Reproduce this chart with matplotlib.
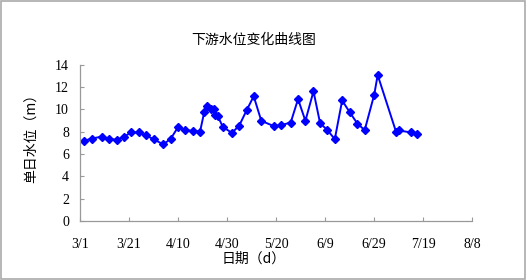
import matplotlib
matplotlib.use("Agg")
import matplotlib.pyplot as plt
from matplotlib.patches import Rectangle

plt.rcParams['font.family'] = ['Noto Sans CJK SC', 'DejaVu Sans']

# jours comptés depuis le 3/1 et niveau d'eau (m)
jours = [1.6, 4.9, 8.9, 12, 15, 18, 20.9, 24, 27, 30, 34, 37, 40, 43, 46, 49,
         50.7, 52, 53.4, 54.5, 55.2, 56.2, 58.3, 62, 65, 68, 70.9, 74, 79.2, 82,
         86, 89, 92, 95.3, 98, 101, 104, 107, 110, 113.2, 116.2, 120.1, 121.5,
         129, 130, 135.2, 137.6]
niveau = [7.17, 7.38, 7.55, 7.35, 7.26, 7.55, 7.92, 7.92, 7.65, 7.32, 6.85,
          7.35, 8.39, 8.1, 8.08, 8.0, 9.73, 10.27, 10.06, 9.98, 9.46, 9.4,
          8.42, 7.88, 8.54, 9.9, 11.16, 8.96, 8.48, 8.57, 8.81, 10.9, 8.96,
          11.6, 8.75, 8.13, 7.32, 10.78, 9.76, 8.72, 8.13, 11.31, 13.06,
          7.98, 8.1, 7.92, 7.77]

xticks = [0, 20, 40, 60, 80, 100, 120, 140, 160]
xlabels = ["3/1", "3/21", "4/10", "4/30", "5/20", "6/9", "6/29", "7/19", "8/8"]
yticks = [0, 2, 4, 6, 8, 10, 12, 14]

fig = plt.figure(figsize=(5.26, 2.8), dpi=100)
ax = fig.add_axes([80 / 526, 1 - 221 / 280, 392 / 526, 156.5 / 280])

ax.plot(jours, niveau, color="#0000FF", linewidth=1.4, marker="D", markersize=4.5)

ax.set_xlim(0, 160)
ax.set_ylim(0, 14)
ax.set_xticks(xticks)
ax.set_xticklabels(xlabels)
ax.set_yticks(yticks)

for s in ["top", "right"]:
    ax.spines[s].set_visible(False)
for s in ["left", "bottom"]:
    ax.spines[s].set_color("#999999")
    ax.spines[s].set_linewidth(0.9)

ax.tick_params(direction="in", length=3, color="#999999", labelsize=10, pad=12)
ax.tick_params(axis="y", pad=8)
for lab in ax.get_xticklabels() + ax.get_yticklabels():
    lab.set_family("Liberation Serif")

fig.text(254 / 526, 1 - 40 / 280, "下游水位变化曲线图", ha="center", va="center", fontsize=10)
fig.text(254 / 526, 1 - 259 / 280, "日期（d）", ha="center", va="center", fontsize=10)
fig.text(31 / 526, 1 - 135 / 280, "单日水位（m）", ha="center", va="center",
         rotation=90, fontsize=10)

# cadre gris autour de la figure
fig.patches.append(Rectangle((0.002, 0.004), 0.996, 0.992, transform=fig.transFigure,
                             fill=False, edgecolor="#AAAAAA", linewidth=1.2))

fig.savefig("out.png", dpi=100)
